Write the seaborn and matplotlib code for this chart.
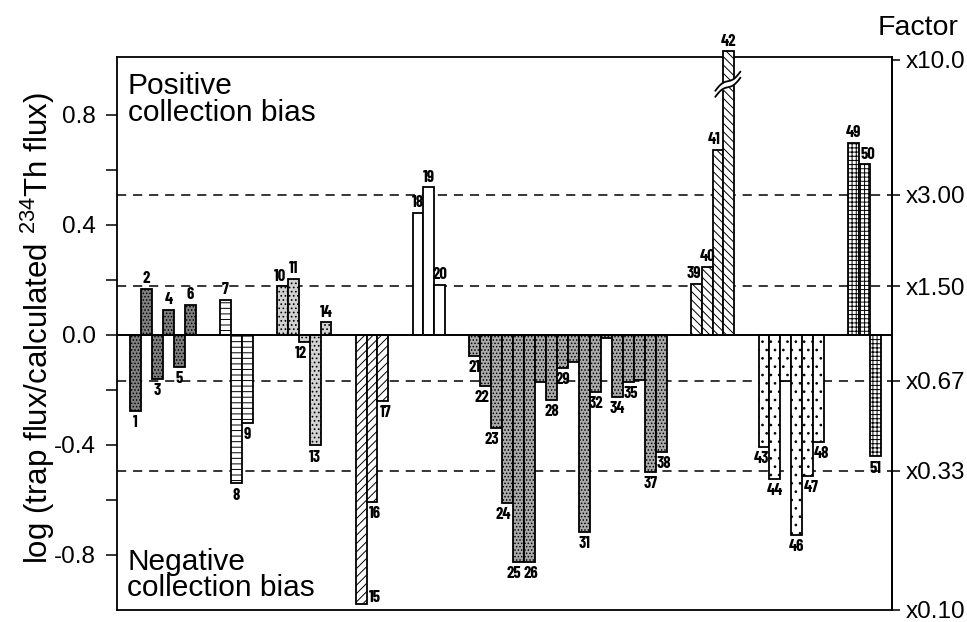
import numpy as np
import pandas as pd
import matplotlib
matplotlib.use("Agg")
import matplotlib.pyplot as plt
import seaborn as sns

# ---------------- data ----------------
trap_ids = [str(i) for i in range(1, 52)]
log_ratio = [
    -0.275, 0.167, -0.160, 0.090, -0.115, 0.108,            # 1-6
    0.127, -0.540, -0.319,                                    # 7-9
    0.176, 0.203, -0.026, -0.402, 0.045,                      # 10-14
    -0.978, -0.606, -0.240,                                   # 15-17
    0.443, 0.536, 0.182,                                      # 18-20
    -0.076, -0.185, -0.337, -0.612, -0.824, -0.824, -0.170,   # 21-27
    -0.236, -0.121, -0.097, -0.715, -0.206, -0.010, -0.226,   # 28-34
    -0.170, -0.164, -0.497, -0.424,                           # 35-38
    0.185, 0.248, 0.673, 1.030,                               # 39-42 (42 broken)
    -0.406, -0.524, -0.166, -0.727, -0.513, -0.388,           # 43-48
    0.697, 0.620, -0.442,                                     # 49-51
]
group_sizes = [6, 3, 5, 3, 3, 18, 4, 6, 3]
unlabeled = ["27", "30", "33", "36", "45"]
broken_id = "42"
factor_labels = ["x10.0", "x3.00", "x1.50", "x0.67", "x0.33", "x0.10"]
factor_pos = [1.0, 0.51, 0.176, -0.166, -0.493, -1.0]   # as drawn in the figure
left_ticks = [-0.8, -0.4, 0.0, 0.4, 0.8]
left_ticklabels = ["-0.8", "-0.4", "0.0", "0.4", "0.8"]
minor_ticks = [-0.6, -0.2, 0.2, 0.6]

# ---------------- styles ----------------
group_styles = [
    ("#808080", "....."),
    ("white", "---"),
    ("#d2d2d2", "...."),
    ("white", "////"),
    ("white", ""),
    ("#ababab", "....."),
    ("white", "\\\\\\\\"),
    ("white", ".."),
    ("white", "++++"),
]
# horizontal nudges of bar labels (points)
label_nudge = {"10": -1.5, "12": -2, "16": 2, "17": 2, "22": -3, "23": -3.5,
               "24": -3, "25": -3.5, "26": 1, "35": 2, "38": 2, "39": -2,
               "41": -3, "43": -2, "47": 2.5, "48": 2, "50": 2}

sns.set_theme(style="white")
plt.rcParams['font.family'] = ['Liberation Sans', 'DejaVu Sans']
plt.rcParams['text.color'] = 'black'
plt.rcParams['axes.labelcolor'] = 'black'
plt.rcParams['mathtext.fontset'] = 'custom'
plt.rcParams['mathtext.rm'] = 'Liberation Sans'
plt.rcParams['mathtext.it'] = 'Liberation Sans:italic'
plt.rcParams['hatch.linewidth'] = 0.7

# layout of slots
first_start, gap = 1.19, 2.2
positions, groups = [], []
start = first_start
for g, n in enumerate(group_sizes):
    positions.extend(list(start + 0.5 + np.arange(n)))
    groups.extend([g] * n)
    start += n + gap

df = pd.DataFrame({"id": trap_ids, "value": log_ratio, "pos": positions, "group": groups})

fig = plt.figure(figsize=(9.67, 6.22), dpi=100)
ax = fig.add_axes([117 / 967, 12 / 622, 775 / 967, 553 / 622])

bar_patch = {}
for g, (face, hatch) in enumerate(group_styles):
    sub = df[df.group == g]
    n_before = len(ax.patches)
    sns.barplot(data=sub, x="pos", y="value", native_scale=True, width=1.0,
                color=face, saturation=1, edgecolor="black", linewidth=1.3,
                hatch=hatch, errorbar=None, ax=ax, zorder=3)
    new = ax.patches[n_before:]
    for pid, p in zip(sub["id"], new):
        bar_patch[pid] = p

# reference lines
for fp in factor_pos[1:-1]:
    ax.axhline(fp, color="black", lw=1.1, ls=(0, (6, 4.5)), zorder=1)
ax.axhline(0, color="black", lw=1.4, zorder=4)

ax.set_ylim(-1.0, 1.01)
ax.set_xlim(0, 70.78)
ax.set_xticks([])
ax.set_xlabel("")
ax.set_yticks(left_ticks)
ax.set_yticklabels(left_ticklabels)
ax.set_yticks(minor_ticks, minor=True)
ax.tick_params(axis="y", which="both", direction="out", length=8, width=1.1,
               labelsize=17.5, pad=7, left=True, colors="black")
for s in ax.spines.values():
    s.set_color("black")
    s.set_linewidth(1.3)
ax.set_ylabel(r"log (trap flux/calculated $^{234}$Th flux)", fontsize=22.5)
ax.yaxis.set_label_coords(-0.078, 0.51)

# bar labels
label_font = dict(family=['Barlow Condensed', 'DejaVu Sans'],
                  weight="bold", fontsize=12)
for pid, p in bar_patch.items():
    if pid in unlabeled:
        continue
    xc = p.get_x() + p.get_width() / 2
    y0, h = p.get_y(), p.get_height()
    top = max(y0, y0 + h)
    bot = min(y0, y0 + h)
    val = log_ratio[trap_ids.index(pid)]
    dx = label_nudge.get(pid, 0)
    if pid == "15":
        ax.annotate(pid, (p.get_x() + p.get_width(), bot), xytext=(1.5, -1),
                    textcoords="offset points", ha="left", va="bottom",
                    annotation_clip=False, zorder=6, **label_font)
    elif val >= 0:
        ax.annotate(pid, (xc, top), xytext=(dx, 2), textcoords="offset points",
                    ha="center", va="bottom", annotation_clip=False, zorder=6, **label_font)
    else:
        ax.annotate(pid, (xc, bot), xytext=(dx, -3), textcoords="offset points",
                    ha="center", va="top", annotation_clip=False, zorder=6, **label_font)

# broken bar 42
p42 = bar_patch[broken_id]
p42.set_clip_on(False)
x0, w = p42.get_x(), p42.get_width()
t = np.linspace(0, 1, 40)
bx = x0 - 0.75 * w + t * 2.3 * w
by = 0.865 + t * 0.07 + 0.008 * np.sin(2 * np.pi * t)
off = 0.022
ax.fill_between(bx, by, by + off, color="white", zorder=5, clip_on=False, lw=0)
ax.plot(bx, by, color="black", lw=1.3, zorder=6, clip_on=False)
ax.plot(bx, by + off, color="black", lw=1.3, zorder=6, clip_on=False)

# right axis
ax2 = ax.twinx()
ax2.set_ylim(ax.get_ylim())
ax2.set_yticks(factor_pos)
ax2.set_yticklabels(factor_labels)
ax2.tick_params(axis="y", direction="out", length=6, width=1.1, labelsize=17.5,
                pad=4, right=True, colors="black")
for k in ["top", "left", "bottom"]:
    ax2.spines[k].set_visible(False)
ax2.spines["right"].set_color("black")
ax2.spines["right"].set_linewidth(1.3)
ax2.grid(False)

# annotations
ax.text(0.014, 0.972, "Positive\ncollection bias", transform=ax.transAxes,
        fontsize=21.5, ha="left", va="top", linespacing=0.92, zorder=7)
ax.text(0.013, 0.113, "Negative\ncollection bias", transform=ax.transAxes,
        fontsize=21.5, ha="left", va="top", linespacing=0.92, zorder=7)
fig.text(878 / 967, 1 - 28 / 622, "Factor", fontsize=20.5, ha="left", va="center")

fig.savefig("out.png", dpi=100, facecolor="white")
